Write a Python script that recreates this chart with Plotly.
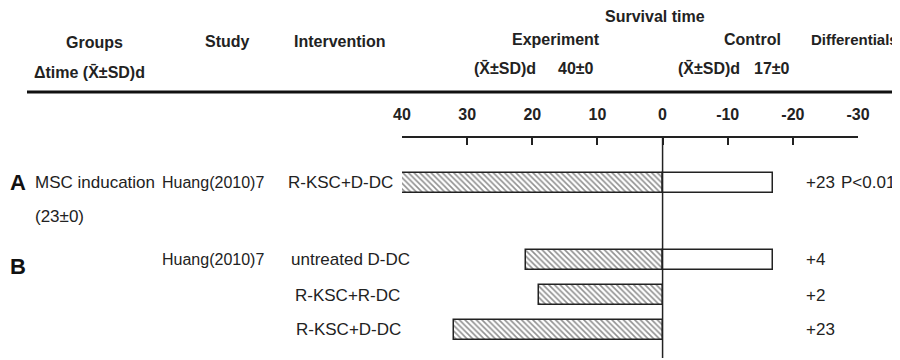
import plotly.graph_objects as go

# ---------------- data ----------------
rows = ["A: R-KSC+D-DC", "B: untreated D-DC", "B: R-KSC+R-DC", "B: R-KSC+D-DC"]
experiment = [40, 21, 19, 32]
control = [17, 17, None, None]
studies = ["Huang(2010)7", "Huang(2010)7", "", ""]
interventions = ["R-KSC+D-DC", "untreated D-DC", "R-KSC+R-DC", "R-KSC+D-DC"]
differentials = ["+23", "+4", "+2", "+23"]
tick_vals = [40, 30, 20, 10, 0, -10, -20, -30]
tick_text = ["40", "30", "20", "10", "0", "-10", "-20", "-30"]

# ---------------- layout helpers (page pixel coordinates) ----------------
row_y = [0, 2.17, 3.17, 4.15]          # vertical row positions (layout)
OFF = 8                                 # default body margin of the html page
W, H = 900 - OFF, 360 - OFF
PLOT_L, PLOT_R, PLOT_T, PLOT_B = 402, 858, 138, 358   # plot area in page px
L, T = PLOT_L - OFF, PLOT_T - OFF
R, B = W - (PLOT_R - OFF), H - (PLOT_B - OFF)
PW, PH = PLOT_R - PLOT_L, PLOT_B - PLOT_T

def px(x):
    return (x - PLOT_L) / PW

def py(y):
    return (PLOT_B - y) / PH

FONT = "Liberation Sans, Arial, sans-serif"
TXT = "#222222"

fig = go.Figure()
fig.add_trace(go.Bar(
    y=row_y, x=experiment, orientation="h", width=0.56,
    marker=dict(color="white", line=dict(color="#222222", width=1.5),
                pattern=dict(shape="\\", fgcolor="#222222", bgcolor="white",
                             size=4, solidity=0.4)),
    showlegend=False, hoverinfo="skip"))
fig.add_trace(go.Bar(
    y=row_y, x=[-c if c is not None else None for c in control],
    orientation="h", width=0.56,
    marker=dict(color="white", line=dict(color="#222222", width=1.5)),
    showlegend=False, hoverinfo="skip"))

ann = []
def add(text, x, y, size=16, bold=False, anchor="left", yref="paper", color=TXT):
    ann.append(dict(text=f"<b>{text}</b>" if bold else text,
                    x=px(x), y=y, xref="paper", yref=yref,
                    xanchor=anchor, yanchor="middle", showarrow=False,
                    font=dict(family=FONT, size=size, color=color)))

XB = "X\u0304"
# header
add("Groups", 94, py(43), bold=True, anchor="center")
add(f"\u0394time ({XB}\u00b1SD)d", 32, py(72), bold=True)
add("Study", 203, py(41), bold=True)
add("Intervention", 292, py(41), bold=True)
add("Survival time", 603, py(17), bold=True)
add("Experiment", 510, py(39), bold=True)
add(f"({XB}\u00b1SD)d", 472, py(68), bold=True)
add("40\u00b10", 556, py(68), bold=True)
add("Control", 722, py(39), bold=True)
add(f"({XB}\u00b1SD)d", 676, py(68), bold=True)
add("17\u00b10", 752, py(68), bold=True)
add("Differentials", 809, py(40), size=15, bold=True)

# rows
add("A", 8, py(182), size=22, bold=True, color="#111111")
add("MSC inducation", 33, row_y[0], size=17, yref="y")
add("(23\u00b10)", 33, py(216), size=17)
add("B", 8, py(266), size=22, bold=True, color="#111111")
for i in range(4):
    if studies[i]:
        add(studies[i], 160, row_y[i], size=16, yref="y")
ix = [286, 289, 293, 294]
for i in range(4):
    add(interventions[i], ix[i], row_y[i], size=17, yref="y")
for i in range(4):
    add(differentials[i], 804, row_y[i], size=17, yref="y")
add("P<0.01", 839, row_y[0], size=17, yref="y")

shapes = [
    dict(type="line", xref="paper", yref="paper", x0=px(27), x1=px(905),
         y0=py(92), y1=py(92), line=dict(color="#111111", width=3)),
    dict(type="line", xref="x", yref="paper", x0=0, x1=0, y0=0, y1=1,
         line=dict(color="#222222", width=1.5)),
]

fig.update_layout(
    width=W, height=H, margin=dict(l=L, r=R, t=T, b=B),
    paper_bgcolor="white", plot_bgcolor="white",
    barmode="overlay", bargap=0,
    annotations=ann, shapes=shapes,
    xaxis=dict(range=[40, -30], side="top", showgrid=False, zeroline=False,
               showline=True, linecolor="#222222", linewidth=2,
               ticks="inside", ticklen=7, tickwidth=2, tickcolor="#222222",
               tickvals=tick_vals, ticktext=[f"<b>{t}</b>" for t in tick_text],
               ticklabelstandoff=10,
               tickfont=dict(family=FONT, size=16, color=TXT), fixedrange=True),
    yaxis=dict(range=[4.94, -1.26], visible=False, fixedrange=True),
    font=dict(family=FONT),
)

fig.write_html("out.html")
